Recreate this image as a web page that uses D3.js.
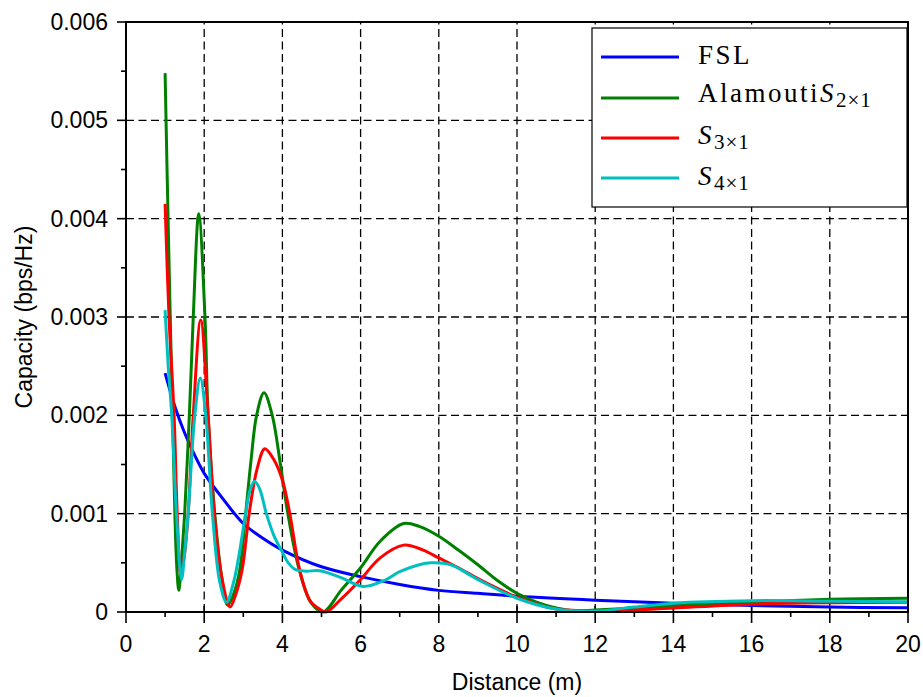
<!DOCTYPE html>
<html>
<head>
<meta charset="utf-8">
<script src="https://cdn.jsdelivr.net/npm/d3@7"></script>
<style>
  html, body { margin: 0; padding: 0; background: #fff; }
  svg { display: block; }
  .tick-label { font-family: "Liberation Sans", Arial, sans-serif; font-size: 23px; fill: #000; }
  .axis-label { font-family: "Liberation Sans", Arial, sans-serif; font-size: 23px; fill: #000; }
  .legend-text { font-family: "Liberation Serif", "Times New Roman", serif; font-size: 27px; fill: #000; }
</style>
</head>
<body>
<div id="svg-container"></div>
<script>
// data (capacity in bps/Hz, distance in m)
const fslX = [1, 1.25, 1.5, 1.75, 2, 2.5, 3, 3.5, 4, 5, 6, 7, 8, 9, 10, 12, 14, 16, 18, 20];
const fslY = [0.00243, 0.00209, 0.00182, 0.0016, 0.00141, 0.00114, 0.0009, 0.00075, 0.00063, 0.00046,
  0.00036, 0.00028, 0.00022, 0.00019, 0.00016, 0.00012, 0.00009, 0.000065, 0.00005, 0.000044];

const s2X = [1, 1.05, 1.12, 1.19, 1.25, 1.3, 1.35, 1.4, 1.45, 1.5, 1.62, 1.72, 1.86, 2.02, 2.1, 2.27,
  2.45, 2.6, 2.75, 2.91, 3.06, 3.2, 3.34, 3.53, 3.74, 3.95, 4.14, 4.43, 4.74, 5.04, 5.5, 6.0, 6.5,
  7.1, 7.5, 8.0, 8.5, 9.0, 9.5, 10, 10.5, 11, 11.5, 12, 13, 14, 16, 18, 20];
const s2Y = [0.00548, 0.0045, 0.0032, 0.002, 0.001, 0.00045, 0.00022, 0.0004, 0.0007, 0.001, 0.002,
  0.003, 0.00405, 0.003, 0.002, 0.001, 0.00035, 0.00007, 0.00018, 0.00043, 0.001, 0.00155, 0.002,
  0.00223, 0.002, 0.0015, 0.001, 0.00043, 0.00009, 0.0, 0.00022, 0.00045, 0.00072, 0.0009,
  0.00087, 0.00077, 0.00063, 0.00048, 0.00032, 0.00019, 0.0001, 0.00004, 0.00001, 0.00002, 0.00004,
  0.00006, 0.0001, 0.00013, 0.00014];

const s3X = [1, 1.1, 1.23, 1.31, 1.4, 1.5, 1.59, 1.72, 1.91, 2.1, 2.26, 2.45, 2.66, 2.8, 2.97, 3.15,
  3.35, 3.55, 3.78, 4.0, 4.19, 4.44, 4.7, 4.95, 5.12, 5.5, 6.0, 6.5, 7.1, 7.6, 8.0, 8.5, 9.0, 9.5,
  10, 10.5, 11, 12, 13, 14, 16, 18, 20];
const s3Y = [0.00415, 0.003, 0.002, 0.001, 0.00038, 0.0006, 0.001, 0.002, 0.00297, 0.002, 0.001,
  0.00035, 0.00005, 0.00017, 0.00043, 0.001, 0.00145, 0.00166, 0.00155, 0.00134, 0.001, 0.00043,
  0.00012, 0.00003, 0.0, 0.00013, 0.00033, 0.00055, 0.00068, 0.00063, 0.00055, 0.00045, 0.00034,
  0.00024, 0.00015, 0.00008, 0.00003, 0.00001, 0.00002, 0.00004, 0.00008, 0.000095, 0.0001];

const s4X = [1, 1.08, 1.17, 1.29, 1.42, 1.5, 1.59, 1.76, 1.9, 2.04, 2.21, 2.4, 2.57, 2.75, 2.9, 3.06,
  3.18, 3.29, 3.42, 3.59, 3.78, 3.97, 4.15, 4.34, 4.6, 4.95, 5.5, 6.06, 6.6, 7.0, 7.5, 7.8, 8.3, 9.0,
  10, 11, 12, 13, 14, 16, 18, 20];
const s4Y = [0.00307, 0.0025, 0.002, 0.001, 0.00033, 0.0006, 0.001, 0.002, 0.00238, 0.002, 0.001,
  0.0003, 0.0001, 0.0003, 0.0006, 0.001, 0.00125, 0.00133, 0.00125, 0.001, 0.00078, 0.00063, 0.0005,
  0.00043, 0.000415, 0.00042, 0.00035, 0.00026, 0.00032, 0.00041, 0.00048, 0.0005, 0.00048, 0.00033,
  0.00014, 0.00003, 0.00001, 0.00005, 0.00009, 0.000115, 0.00011, 0.000105];

const seriesNames = ["FSL", "Alamouti", "S3", "S4"];
const seriesColors = ["#0000ff", "#008000", "#ff0000", "#00bfbf"];
const xTicks = [0, 2, 4, 6, 8, 10, 12, 14, 16, 18, 20];
const yTicks = [0, 0.001, 0.002, 0.003, 0.004, 0.005, 0.006];

const width = 923, height = 697;
const margin = { top: 22, right: 15, bottom: 85, left: 126 };

const svg = d3.select("#svg-container").append("svg")
  .attr("width", width).attr("height", height);

const xScale = d3.scaleLinear().domain([0, 20]).range([margin.left, width - margin.right]);
const yScale = d3.scaleLinear().domain([0, 0.006]).range([height - margin.bottom, margin.top]);

const x0 = margin.left, x1 = width - margin.right;
const y0 = height - margin.bottom, y1 = margin.top;

// grid
const grid = svg.append("g").attr("stroke", "#000").attr("stroke-width", 1.3)
  .attr("stroke-dasharray", "8,4.5");
grid.selectAll(".vg").data(xTicks.slice(1, -1)).enter().append("line")
  .attr("x1", d => xScale(d)).attr("x2", d => xScale(d))
  .attr("y1", y0).attr("y2", y1);
grid.selectAll(".hg").data(yTicks.slice(1, -1)).enter().append("line")
  .attr("x1", x0).attr("x2", x1)
  .attr("y1", d => yScale(d)).attr("y2", d => yScale(d));

// ticks drawn from the scales
const tk = svg.append("g").attr("stroke", "#000").attr("stroke-width", 1.6);
tk.selectAll(".xmaj").data(xTicks).enter().append("line")
  .attr("x1", d => xScale(d)).attr("x2", d => xScale(d))
  .attr("y1", y0 - 6).attr("y2", y0 + 11);
tk.selectAll(".xmin").data(d3.range(1, 20, 2)).enter().append("line")
  .attr("x1", d => xScale(d)).attr("x2", d => xScale(d))
  .attr("y1", y0).attr("y2", y0 + 5);
tk.selectAll(".ymaj").data(yTicks).enter().append("line")
  .attr("x1", x0 - 9).attr("x2", x0)
  .attr("y1", d => yScale(d)).attr("y2", d => yScale(d));
tk.selectAll(".ymin").data(d3.range(0.0005, 0.006, 0.001)).enter().append("line")
  .attr("x1", x0 - 5).attr("x2", x0)
  .attr("y1", d => yScale(d)).attr("y2", d => yScale(d));

svg.selectAll(".xlab").data(xTicks).enter().append("text")
  .attr("class", "tick-label")
  .attr("x", d => xScale(d)).attr("y", 652)
  .attr("text-anchor", "middle")
  .text(d => d);
svg.selectAll(".ylab").data(yTicks).enter().append("text")
  .attr("class", "tick-label")
  .attr("x", 108).attr("y", d => yScale(d) + 8)
  .attr("text-anchor", "end")
  .text(d => d === 0 ? "0" : d3.format(".3f")(d));

svg.append("text").attr("class", "axis-label")
  .attr("x", (x0 + x1) / 2).attr("y", 690)
  .attr("text-anchor", "middle").text("Distance (m)");
svg.append("text").attr("class", "axis-label")
  .attr("transform", `translate(32,${(y0 + y1) / 2}) rotate(-90)`)
  .attr("text-anchor", "middle").text("Capacity (bps/Hz)");

// curves
const line = d3.line()
  .x(d => xScale(d[0]))
  .y(d => yScale(d[1]))
  .curve(d3.curveCatmullRom.alpha(0.5));

const allSeries = [[fslX, fslY], [s2X, s2Y], [s3X, s3Y], [s4X, s4Y]];
allSeries.forEach(([xs, ys], i) => {
  svg.append("path")
    .datum(xs.map((x, j) => [x, ys[j]]))
    .attr("class", "line")
    .attr("d", line)
    .attr("fill", "none")
    .attr("stroke", seriesColors[i])
    .attr("stroke-width", 3)
    .attr("stroke-linejoin", "round");
});

// frame
svg.append("rect")
  .attr("x", x0).attr("y", y1)
  .attr("width", x1 - x0).attr("height", y0 - y1)
  .attr("fill", "none").attr("stroke", "#000").attr("stroke-width", 2);

// legend
const lg = svg.append("g");
lg.append("rect").attr("x", 592).attr("y", 28).attr("width", 315).attr("height", 179)
  .attr("fill", "#fff").attr("stroke", "#000").attr("stroke-width", 1.2);
const rowY = [57, 98, 138, 178];
const baseOff = [7, 4, 6, 7];
seriesNames.forEach((name, i) => {
  lg.append("line").attr("x1", 601).attr("x2", 679)
    .attr("y1", rowY[i]).attr("y2", rowY[i])
    .attr("stroke", seriesColors[i]).attr("stroke-width", 3);
  const t = lg.append("text").attr("class", "legend-text")
    .attr("x", 698).attr("y", rowY[i] + baseOff[i])
    .attr("letter-spacing", "2.5px");
  if (name === "FSL") {
    t.text("FSL");
  } else {
    const sub = name === "Alamouti" ? "2×1" : name === "S3" ? "3×1" : "4×1";
    if (name === "Alamouti") t.append("tspan").text("Alamouti");
    t.append("tspan").attr("font-style", "italic").text("S");
    t.append("tspan").attr("font-size", "21px").attr("letter-spacing", "1px")
      .attr("dy", 5).text(sub);
  }
});
</script>
</body>
</html>
